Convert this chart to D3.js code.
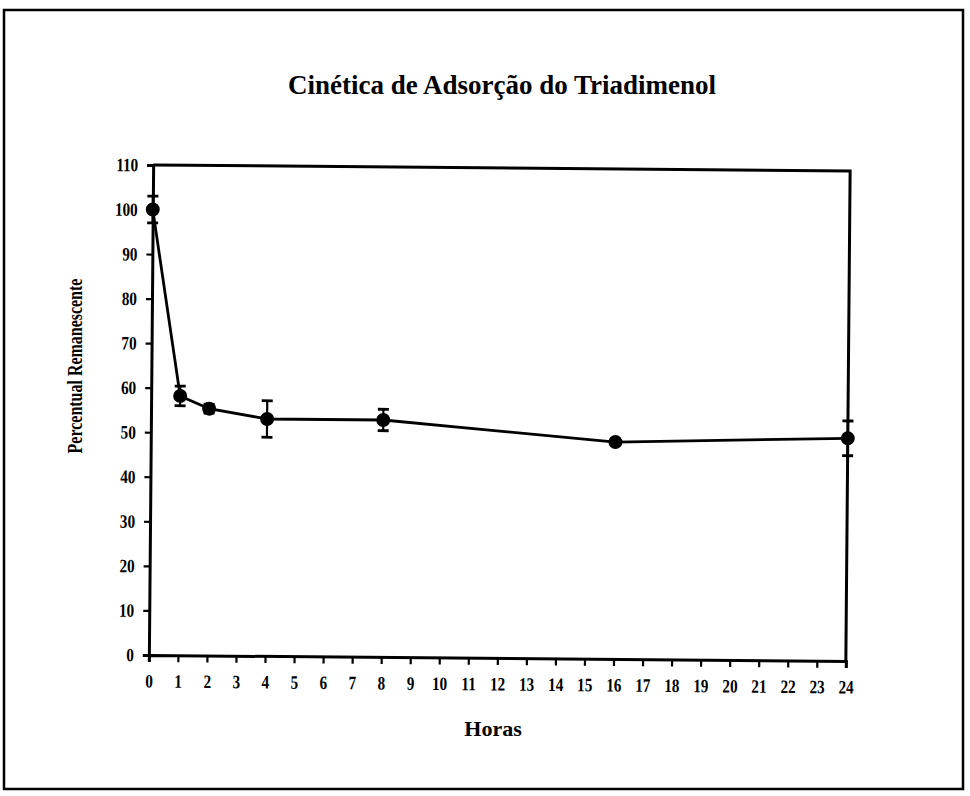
<!DOCTYPE html>
<html>
<head>
<meta charset="utf-8">
<script src="https://cdn.jsdelivr.net/npm/d3@7"></script>
<style>
  body { margin: 0; background: #fff; }
  text { font-family: "Liberation Serif", "Times New Roman", serif; font-weight: bold; fill: #000; }
</style>
</head>
<body>
<svg width="970" height="796"></svg>
<script>
// data
var horas = [0, 1, 2, 4, 8, 16, 24];
var percentual = [100, 58.2, 55.4, 53.2, 53.2, 48.7, 50.0];
var erro = [3.0, 2.2, 1.0, 4.1, 2.4, 0.6, 3.9];
var xTicks = d3.range(0, 25);
var yTicks = [0, 10, 20, 30, 40, 50, 60, 70, 80, 90, 100, 110];

var svg = d3.select("svg");

// squeeze a text a bit, the scanned print looks condensed
function condense(sel, k) {
    sel.each(function() {
        var len = this.getComputedTextLength();
        d3.select(this).attr("textLength", len * k).attr("lengthAdjust", "spacingAndGlyphs");
    });
}

// outer frame
svg.append("rect")
   .attr("x", 4).attr("y", 10)
   .attr("width", 959).attr("height", 779)
   .attr("fill", "none")
   .attr("stroke", "#000")
   .attr("stroke-width", 2.5);

svg.append("text")
   .attr("x", 502)
   .attr("y", 94)
   .attr("text-anchor", "middle")
   .attr("font-size", "27px")
   .text("Cinética de Adsorção do Triadimenol");

var margin = {left: 151, top: 168},
    width = 697,
    height = 490;

// the scanned original is a little tilted
var g = svg.append("g")
    .attr("transform", "translate(" + margin.left + "," + margin.top + ") rotate(0.5," + width / 2 + "," + height / 2 + ")");

var x = d3.scaleLinear().domain([0, 24]).range([0, width]);
var y = d3.scaleLinear().domain([0, 110]).range([height, 0]);

// plot box top and right
g.append("path")
 .attr("d", "M0," + y(110) + "H" + x(24) + "V" + y(0))
 .attr("fill", "none")
 .attr("stroke", "#000")
 .attr("stroke-width", 3);

var xAxis = g.append("g")
 .attr("transform", "translate(0," + height + ")")
 .call(d3.axisBottom(x).tickValues(xTicks).tickSize(7).tickPadding(12).tickFormat(d3.format("d")));

var yAxis = g.append("g")
 .call(d3.axisLeft(y).tickValues(yTicks).tickSize(6).tickPadding(9));

[xAxis, yAxis].forEach(function(a) {
    a.select(".domain").attr("stroke-width", 3);
    a.selectAll(".tick line").attr("stroke-width", 2.2);
    a.selectAll(".tick text").attr("font-size", "19px").attr("font-family", null).call(condense, 0.8);
});

// error bars
var pts = horas.map(function(h, i) { return {h: h, v: percentual[i], e: erro[i]}; });

var eb = g.selectAll(".eb").data(pts).enter().append("g").attr("class", "eb");
eb.append("line")
  .attr("x1", function(d) { return x(d.h); })
  .attr("x2", function(d) { return x(d.h); })
  .attr("y1", function(d) { return y(d.v + d.e); })
  .attr("y2", function(d) { return y(d.v - d.e); })
  .attr("stroke", "#000").attr("stroke-width", 2.2);
eb.selectAll(".cap")
  .data(function(d) { return [d.v + d.e, d.v - d.e].map(function(v) { return {h: d.h, v: v}; }); })
  .enter().append("line")
  .attr("x1", function(d) { return x(d.h) - 5.5; })
  .attr("x2", function(d) { return x(d.h) + 5.5; })
  .attr("y1", function(d) { return y(d.v); })
  .attr("y2", function(d) { return y(d.v); })
  .attr("stroke", "#000").attr("stroke-width", 2.8);

g.append("path")
 .datum(pts)
 .attr("fill", "none")
 .attr("stroke", "#000")
 .attr("stroke-width", 2.8)
 .attr("d", d3.line().x(function(d) { return x(d.h); }).y(function(d) { return y(d.v); }));

g.selectAll(".dot")
 .data(pts)
 .enter().append("circle")
 .attr("class", "dot")
 .attr("cx", function(d) { return x(d.h); })
 .attr("cy", function(d) { return y(d.v); })
 .attr("r", 7)
 .attr("fill", "#000");

svg.append("text")
   .attr("transform", "translate(82,366) rotate(-90)")
   .attr("text-anchor", "middle")
   .attr("font-size", "21px")
   .text("Percentual Remanescente")
   .call(condense, 0.76);

svg.append("text")
   .attr("x", 493)
   .attr("y", 736)
   .attr("text-anchor", "middle")
   .attr("font-size", "22px")
   .text("Horas");
</script>
</body>
</html>
